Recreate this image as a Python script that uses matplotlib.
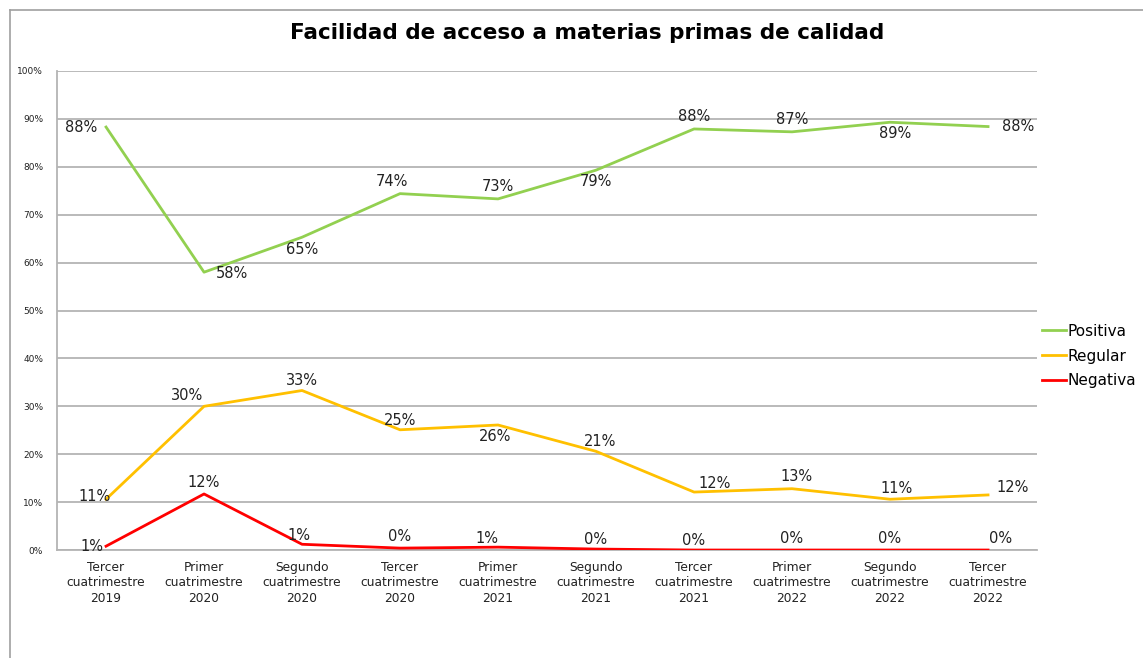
import matplotlib
matplotlib.use('Agg')
from matplotlib import pyplot
from matplotlib.lines import Line2D
from matplotlib.ticker import PercentFormatter

categories = ['Tercer\ncuatrimestre\n2019', 'Primer\ncuatrimestre\n2020',
              'Segundo\ncuatrimestre\n2020', 'Tercer\ncuatrimestre\n2020',
              'Primer\ncuatrimestre\n2021', 'Segundo\ncuatrimestre\n2021',
              'Tercer\ncuatrimestre\n2021', 'Primer\ncuatrimestre\n2022',
              'Segundo\ncuatrimestre\n2022', 'Tercer\ncuatrimestre\n2022']
positiva = [88.3, 58.0, 65.3, 74.4, 73.3, 79.3, 87.9, 87.3, 89.3, 88.4]
regular = [10.6, 30.0, 33.3, 25.1, 26.1, 20.6, 12.1, 12.8, 10.6, 11.5]
negativa = [0.8, 11.7, 1.2, 0.4, 0.6, 0.2, 0.0, 0.0, 0.0, 0.0]
positiva_labels = ['88%', '58%', '65%', '74%', '73%', '79%', '88%', '87%', '89%', '88%']
regular_labels = ['11%', '30%', '33%', '25%', '26%', '21%', '12%', '13%', '11%', '12%']
negativa_labels = ['1%', '12%', '1%', '0%', '1%', '0%', '0%', '0%', '0%', '0%']

# label placement (points offset) per data point, Excel style
pos_off = [(-18, 0), (20, -1), (0, -9), (-6, 9), (0, 9), (0, -8), (0, 9), (0, 9), (4, -8), (22, 0)]
reg_off = [(-8, 2), (-12, 8), (0, 7), (0, 7), (-2, -8), (3, 7), (15, 6), (3, 9), (5, 8), (18, 5)]
neg_off = [(-10, 0), (0, 8), (-2, 6), (0, 8), (-8, 6), (0, 7), (0, 7), (0, 8), (0, 8), (9, 8)]

fig = pyplot.figure(figsize=(11.43, 6.58), dpi=100)
ax = fig.add_axes([0.0499, 0.1641, 0.8574, 0.728])

x = list(range(len(categories)))
series = [('Positiva', positiva, positiva_labels, pos_off, '#92d050'),
          ('Regular', regular, regular_labels, reg_off, '#ffc000'),
          ('Negativa', negativa, negativa_labels, neg_off, '#ff0000')]
for name, vals, labels, offs, color in series:
  ax.plot(x, vals, color=color, linewidth=2, label=name, zorder=5)
  for xi, v, lab, off in zip(x, vals, labels, offs):
    ax.annotate(lab, (xi, v), xytext=off, textcoords='offset points',
                ha='center', va='center', fontsize=10.5, color='#222222',
                zorder=6)

ax.set_xlim(-0.5, len(categories) - 0.5)
ax.set_ylim(0, 100)
ax.set_yticks(range(0, 101, 10))
ax.yaxis.set_major_formatter(PercentFormatter(decimals=0))
ax.set_xticks(x)
ax.set_xticklabels(categories, fontsize=8.8, color='#222222', linespacing=1.22)
ax.tick_params(axis='y', labelsize=6.5, colors='#222222', length=0, pad=10)
ax.tick_params(axis='x', length=0, pad=8)
ax.grid(True, axis='y', color='#b4b4b4', linewidth=1.3, zorder=0)
for side in ('top', 'right'):
  ax.spines[side].set_visible(False)
for side in ('left', 'bottom'):
  ax.spines[side].set_color('#b4b4b4')
  ax.spines[side].set_linewidth(1.3)

ax.legend(loc='center left', bbox_to_anchor=(1.0, 0.405), frameon=False,
          fontsize=11, handlelength=1.6, handletextpad=0.1, labelspacing=0.64,
          borderaxespad=0, borderpad=0.3)

fig.text(0.514, 0.95, 'Facilidad de acceso a materias primas de calidad',
         ha='center', va='center', fontsize=15.5, fontweight='bold')

# outer frame of the chart object
fig.add_artist(Line2D([0.0087, 0.0087], [0.0, 0.985], color='#a0a0a0',
                      linewidth=1.2, transform=fig.transFigure))
fig.add_artist(Line2D([0.0087, 1.0], [0.985, 0.985], color='#a0a0a0',
                      linewidth=1.2, transform=fig.transFigure))

fig.savefig('out.png', dpi=100)
